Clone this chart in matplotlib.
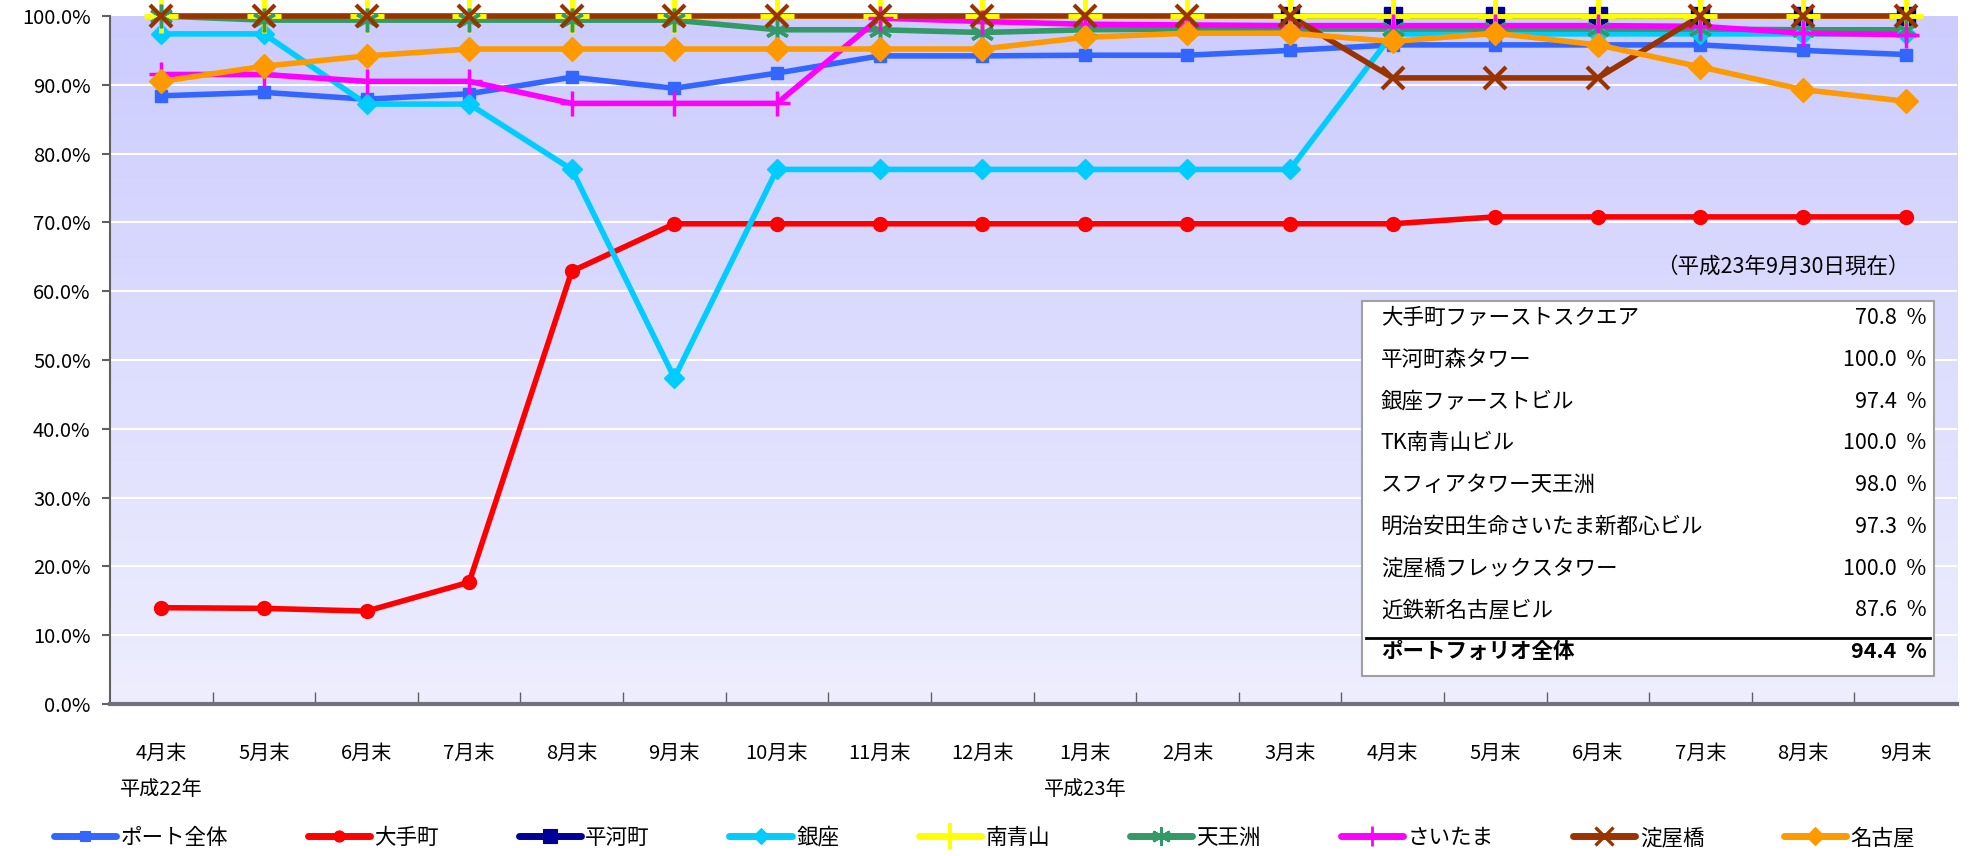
import numpy as np
import matplotlib
matplotlib.use("Agg")
import matplotlib.pyplot as plt
from matplotlib.lines import Line2D
from matplotlib.patches import Rectangle

plt.rcParams['font.family'] = ['Noto Sans CJK JP', 'DejaVu Sans']

# 月末稼働率の推移（平成22年4月末～平成23年9月末）
months = ['4月末', '5月末', '6月末', '7月末', '8月末', '9月末', '10月末', '11月末', '12月末',
          '1月末', '2月末', '3月末', '4月末', '5月末', '6月末', '7月末', '8月末', '9月末']
nan = np.nan
port = [88.4, 88.9, 87.9, 88.7, 91.1, 89.5, 91.7, 94.2, 94.2,
        94.3, 94.3, 95.0, 95.8, 95.8, 95.8, 95.8, 95.0, 94.4]
otemachi = [14.0, 13.9, 13.5, 17.7, 62.9, 69.8, 69.8, 69.8, 69.8,
            69.8, 69.8, 69.8, 69.8, 70.8, 70.8, 70.8, 70.8, 70.8]
hirakawa = [nan, nan, nan, nan, nan, nan, nan, nan, nan,
            nan, nan, 100.0, 100.0, 100.0, 100.0, 100.0, 100.0, 100.0]
ginza = [97.4, 97.4, 87.2, 87.2, 77.7, 47.4, 77.7, 77.7, 77.7,
         77.7, 77.7, 77.7, 97.4, 97.4, 97.4, 97.4, 97.4, 97.4]
aoyama = [100.0] * 18
tennozu = [100.0, 99.4, 99.4, 99.4, 99.4, 99.4, 98.0, 98.0, 97.6,
           98.0, 98.1, 98.1, 98.1, 98.1, 98.1, 98.1, 98.0, 98.0]
saitama = [91.5, 91.5, 90.5, 90.5, 87.3, 87.3, 87.3, 99.7, 99.2,
           98.8, 98.7, 98.6, 98.6, 98.6, 98.6, 98.5, 97.5, 97.3]
yodoyabashi = [100.0, 100.0, 100.0, 100.0, 100.0, 100.0, 100.0, 100.0, 100.0,
               100.0, 100.0, 100.0, 91.0, 91.0, 91.0, 100.0, 100.0, 100.0]
nagoya = [90.5, 92.7, 94.2, 95.2, 95.2, 95.2, 95.2, 95.2, 95.2,
          96.9, 97.5, 97.5, 96.3, 97.5, 95.8, 92.6, 89.3, 87.6]

# 凡例名, 物件名, データ, 色, マーカー, マーカーサイズ, マーカー線幅
series = [
    ('ポート全体', 'ポートフォリオ全体', port, '#3366FF', 's', 9, 1),
    ('大手町', '大手町ファーストスクエア', otemachi, '#FF0000', 'o', 10, 1),
    ('平河町', '平河町森タワー', hirakawa, '#000099', 's', 13, 1),
    ('銀座', '銀座ファーストビル', ginza, '#00CCFF', 'D', 10, 1),
    ('南青山', 'TK南青山ビル', aoyama, '#FFFF00', '+', 24, 3.5),
    ('天王洲', 'スフィアタワー天王洲', tennozu, '#339966', (6, 2, 0), 17, 2.5),
    ('さいたま', '明治安田生命さいたま新都心ビル', saitama, '#FF00FF', '+', 18, 2.5),
    ('淀屋橋', '淀屋橋フレックスタワー', yodoyabashi, '#993300', 'x', 16, 3),
    ('名古屋', '近鉄新名古屋ビル', nagoya, '#FF9900', 'D', 12, 1),
]

fig = plt.figure(figsize=(19.69, 8.56), dpi=100)
ax = fig.add_axes([110 / 1969, 1 - 704 / 856, 1847 / 1969, 688 / 856])

x = np.arange(len(months))
ax.set_xlim(-0.5, len(months) - 0.5)
ax.set_ylim(0, 100)

# 背景のグラデーション
grad = np.linspace(0, 1, 256).reshape(-1, 1)
top = np.array([204, 204, 255]) / 255
bottom = np.array([238, 238, 254]) / 255
img = top + (bottom - top) * grad[:, :, None]
ax.imshow(img, extent=[0, 1, 0, 1], transform=ax.transAxes, aspect='auto', zorder=0)

for v in range(10, 100, 10):
    ax.axhline(v, color='white', lw=1.5, zorder=1)

handles = []
for i, (name, full, vals, col, mk, ms, mew) in enumerate(series):
    ax.plot(x, vals, color=col, lw=4, solid_capstyle='round', zorder=2 + i * 0.01, clip_on=False)
    ax.plot(x, vals, ls='none', marker=mk, ms=ms, mew=mew, color=col, mfc=col, mec=col,
            zorder=3 + i * 0.01, clip_on=False)
    handles.append(Line2D([], [], color=col, lw=5, solid_capstyle='round', marker=mk,
                          ms=ms * 0.8, mew=mew * 0.8, mfc=col, mec=col, label=name))

# 軸
for s in ['top', 'right']:
    ax.spines[s].set_visible(False)
ax.spines['left'].set_color('#606060')
ax.spines['left'].set_linewidth(1.5)
ax.spines['bottom'].set_color('#707080')
ax.spines['bottom'].set_linewidth(3)

ax.set_yticks(np.arange(0, 101, 10))
ax.set_yticklabels(['%.1f%%' % v for v in np.arange(0, 101, 10)], fontsize=14.5)
ax.tick_params(axis='y', length=6, width=1.5, color='#606060', pad=8)

ax.set_xticks(x)
ax.set_xticklabels(months, fontsize=14.5)
ax.tick_params(axis='x', which='major', length=0, pad=28)
ax.set_xticks(np.arange(0.5, len(months) - 1, 1), minor=True)
ax.tick_params(axis='x', which='minor', direction='in', length=9, width=1, color='#606060')

ax.text(0, -0.124, '平成22年', transform=ax.get_xaxis_transform(), ha='center', va='center', fontsize=14.5)
ax.text(9, -0.124, '平成23年', transform=ax.get_xaxis_transform(), ha='center', va='center', fontsize=14.5)

# 稼働率一覧表
ax.text(0.974, 0.635, '（平成23年9月30日現在）', transform=ax.transAxes, ha='right', va='center', fontsize=15.5, zorder=10)
ax.add_patch(Rectangle((0.678, 0.041), 0.3095, 0.545, transform=ax.transAxes,
                       facecolor='white', edgecolor='#A0A0A0', lw=1.5, zorder=10))
rows = series[1:] + series[:1]
row_y = 0.5605
for j, (name, full, vals, *_rest) in enumerate(rows):
    bold = j == len(rows) - 1
    yy = row_y - j * 0.0606
    w = 'bold' if bold else 'normal'
    ax.text(0.688, yy, full, transform=ax.transAxes, ha='left', va='center', fontsize=15.5, fontweight=w, zorder=11)
    ax.text(0.9835, yy, '%.1f  %%' % vals[-1], transform=ax.transAxes, ha='right', va='center',
            fontsize=15.5, fontweight=w, zorder=11)
ax.plot([0.680, 0.9855], [0.0955, 0.0955], transform=ax.transAxes, color='black', lw=2, zorder=11)

fig.legend(handles=handles, loc='center', bbox_to_anchor=(0.5, 1 - 838 / 856), ncol=9, frameon=False,
           fontsize=15.5, handlelength=2.9, columnspacing=3.7, handletextpad=0.2)

fig.savefig('out.png', dpi=100, facecolor='white')
